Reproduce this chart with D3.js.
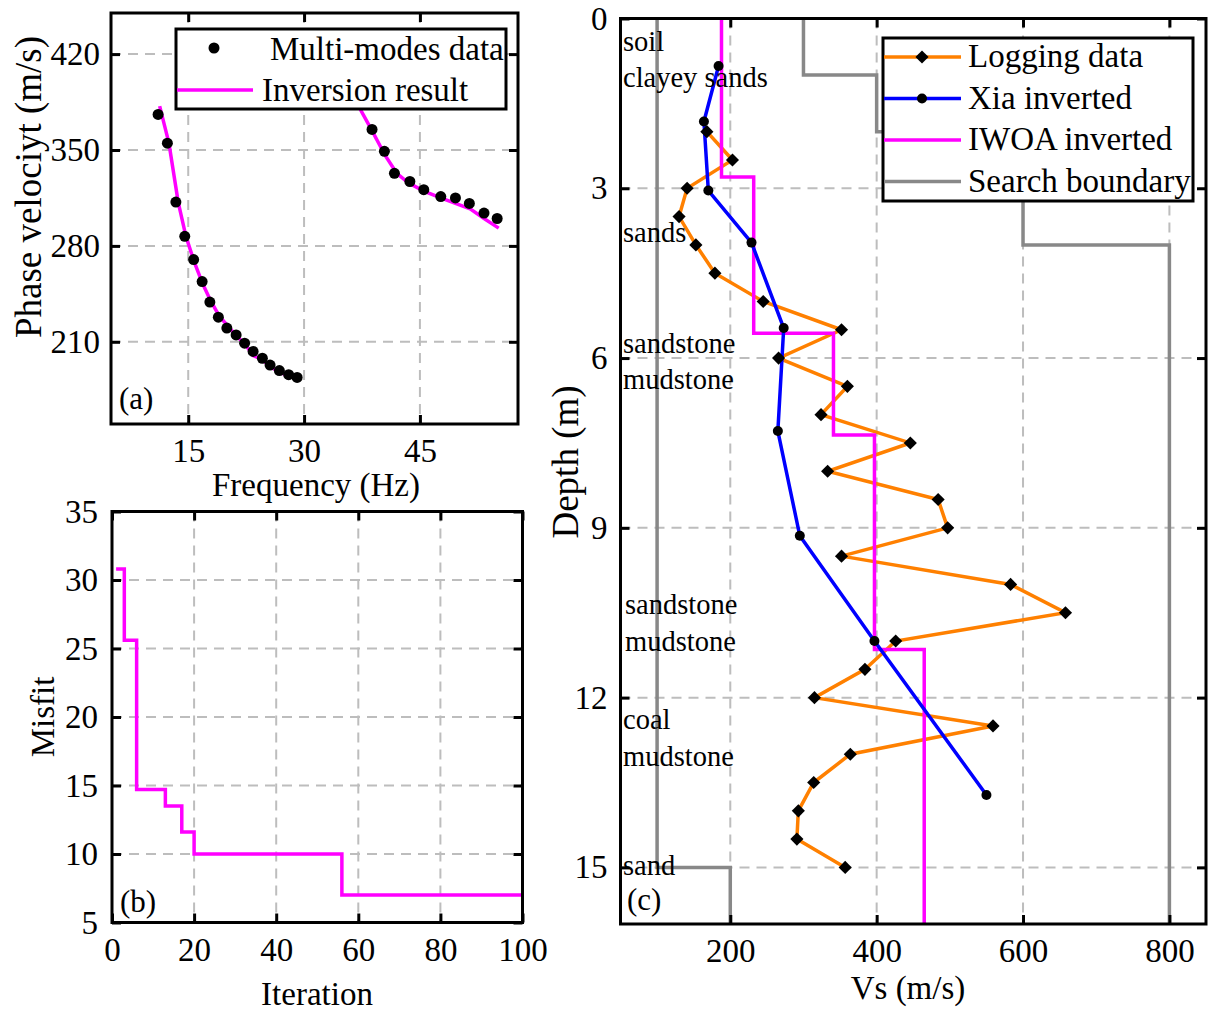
<!DOCTYPE html>
<html>
<head>
<meta charset="utf-8">
<script src="https://cdn.jsdelivr.net/npm/d3@7"></script>
<style>
	body { margin: 0; background: #fff; }
	svg { display: block; }
	text { font-family: "Liberation Serif", "Times New Roman", serif; fill: #000; }
</style>
</head>
<body>
<svg id="fig" width="1208" height="1011"></svg>
<script>
// (a) dispersion curves
var freqMode1 = [11.1, 12.3, 13.4, 14.55, 15.7, 16.8, 17.8, 18.9, 20.0, 21.2, 22.3, 23.4, 24.6, 25.6, 26.8, 28.0, 29.1];
var velMode1 = [376, 355, 312, 287, 270, 254, 239, 228, 220, 215, 209, 203, 198, 193, 189, 186, 184];
var freqMode2 = [38.8, 40.4, 41.7, 43.7, 45.5, 47.7, 49.6, 51.4, 53.3, 55.0];
var velMode2 = [365, 349, 333, 327, 321, 316, 315, 311, 304, 300];
var invFreq1 = [11.3, 12.5, 13.7, 14.7, 15.8, 16.9, 17.9, 19.0, 20.2, 21.3, 22.4, 23.4, 24.6, 25.6, 26.8, 28.0, 29.1];
var invVel1 = [382, 355, 312, 287, 268, 252, 240, 229, 221, 214, 208, 200, 197, 192, 188, 185, 184];
var invFreq2 = [36.5, 37.05, 38.9, 40.5, 42.0, 43.5, 45.5, 47.7, 49.6, 51.5, 53.3, 55.2];
var invVel2 = [392, 382, 363, 346, 333, 326, 320, 315, 311, 307, 300, 293];

// (b) misfit curve
var iterations = [1, 3, 6, 13, 17, 20, 56, 100];
var misfits = [30.8, 25.6, 14.7, 13.5, 11.6, 10.0, 7.0, 7.0];

// (c) Vs profiles
var logDepth = [2.0, 2.5, 3.0, 3.5, 4.0, 4.5, 5.0, 5.5, 6.0, 6.5, 7.0, 7.5, 8.0, 8.5, 9.0, 9.5, 10.0, 10.5, 11.0, 11.5, 12.0, 12.5, 13.0, 13.5, 14.0, 14.5, 15.0];
var logVs = [168, 203, 141, 130, 153, 179, 245, 352, 266, 360, 324, 446, 333, 484, 497, 352, 583, 658, 426, 384, 315, 559, 364, 314, 293, 291, 357];
var xiaDepth = [0.84, 1.82, 3.04, 3.96, 5.47, 7.29, 9.14, 11.0, 13.72];
var xiaVs = [184, 164, 170, 229, 273, 265, 295, 397, 550];
var iwoaTop = [0, 2.8, 5.56, 7.36, 11.15];
var iwoaVs = [188, 232, 341, 397, 465];
var lowTop = [0, 15];
var lowVs = [100, 200];
var upTop = [0, 1, 2, 4];
var upVs = [300, 400, 600, 800];
var maxDepth = 16;

var layerNames = ['soil', 'clayey sands', 'sands', 'sandstone', 'mudstone', 'sandstone', 'mudstone', 'coal', 'mudstone', 'sand'];
var layerLabelY = [51, 87, 242, 353, 389, 614, 651, 729, 766, 875];

var svg = d3.select('#fig');
svg.append('rect').attr('width', 1208).attr('height', 1011).attr('fill', '#fff');

var FS = 33;
var SERIF = '"Liberation Serif", "Times New Roman", serif';

function stepPoints(tops, vals, bottom) {
	var pts = [];
	for (var i = 0; i < tops.length; i++) {
		var b = (i + 1 < tops.length) ? tops[i + 1] : bottom;
		pts.push([vals[i], tops[i]]);
		pts.push([vals[i], b]);
	}
	return pts;
}

function zip(a, b) {
	return a.map(function (d, i) { return [d, b[i]]; });
}

// grid + ticks + frame for one panel
function Panel(x, y, xt, yt) {
	this.x = x;
	this.y = y;
	this.g = svg.append('g');
	var x0 = x.range()[0], x1 = x.range()[1];
	var y0 = y.range()[0], y1 = y.range()[1];
	this.grid = this.g.append('g');
	xt.forEach(function (v) {
		if (v == x.domain()[0] || v == x.domain()[1]) return;
		this.grid.append('line').attr('x1', x(v)).attr('x2', x(v)).attr('y1', Math.min(y0, y1)).attr('y2', Math.max(y0, y1));
	}, this);
	yt.forEach(function (v) {
		if (v == y.domain()[0] || v == y.domain()[1]) return;
		this.grid.append('line').attr('y1', y(v)).attr('y2', y(v)).attr('x1', x0).attr('x2', x1);
	}, this);
	this.grid.selectAll('line')
		.attr('stroke', '#bdbdbd')
		.attr('stroke-width', 2)
		.attr('stroke-dasharray', '10,7');
	this.marks = this.g.append('g');
	this.xt = xt;
	this.yt = yt;
}

Panel.prototype.Axes = function (padB, padL) {
	var x = this.x, y = this.y;
	var x0 = x.range()[0], x1 = x.range()[1];
	var top = Math.min(y.range()[0], y.range()[1]);
	var bot = Math.max(y.range()[0], y.range()[1]);
	var ax = this.g.append('g');
	var xAxisLab = d3.axisBottom(x).tickValues(this.xt).tickSize(-9).tickPadding(padB);
	var xAxisMir = d3.axisTop(x).tickValues(this.xt).tickSize(-9).tickFormat('');
	var yAxisLab = d3.axisLeft(y).tickValues(this.yt).tickSize(-9).tickPadding(padL);
	var yAxisMir = d3.axisRight(y).tickValues(this.yt).tickSize(-9).tickFormat('');
	ax.append('g').attr('transform', 'translate(0,' + bot + ')').call(xAxisLab);
	ax.append('g').attr('transform', 'translate(0,' + top + ')').call(xAxisMir);
	ax.append('g').attr('transform', 'translate(' + x0 + ',0)').call(yAxisLab);
	ax.append('g').attr('transform', 'translate(' + x1 + ',0)').call(yAxisMir);
	ax.selectAll('g').attr('font-family', SERIF).attr('font-size', FS);
	ax.selectAll('.domain').remove();
	ax.selectAll('.tick line').attr('stroke', '#000').attr('stroke-width', 3);
	ax.selectAll('.tick text').style('font-size', FS + 'px').style('font-family', SERIF).attr('fill', '#000');
	this.g.append('rect')
		.attr('x', x0).attr('y', top)
		.attr('width', x1 - x0).attr('height', bot - top)
		.attr('fill', 'none').attr('stroke', '#000').attr('stroke-width', 3);
	return ax;
}

function label(t, x, y, size, rot) {
	var el = svg.append('text')
		.text(t)
		.style('font-size', size + 'px')
		.attr('text-anchor', rot == null ? 'start' : 'middle');
	if (rot) el.attr('transform', 'translate(' + x + ',' + y + ') rotate(' + rot + ')');
	else el.attr('x', x).attr('y', y);
	return el;
}

// ---------- (a)
var xA = d3.scaleLinear().domain([5, 57.7]).range([111, 518]);
var yA = d3.scaleLinear().domain([150, 450]).range([424, 13]);
var pA = new Panel(xA, yA, [15, 30, 45], [210, 280, 350, 420]);
var lineA = d3.line().x(function (d) { return xA(d[0]); }).y(function (d) { return yA(d[1]); });
pA.g.append('defs').append('clipPath').attr('id', 'clipA')
	.append('rect').attr('x', 111).attr('y', 13).attr('width', 407).attr('height', 411);
var mA = pA.marks.attr('clip-path', 'url(#clipA)');
[zip(invFreq1, invVel1), zip(invFreq2, invVel2)].forEach(function (pts) {
	mA.append('path').attr('d', lineA(pts)).attr('fill', 'none').attr('stroke', '#ff00ff').attr('stroke-width', 3.5);
});
zip(freqMode1, velMode1).concat(zip(freqMode2, velMode2)).forEach(function (d) {
	mA.append('circle').attr('cx', xA(d[0])).attr('cy', yA(d[1])).attr('r', 5.5).attr('fill', '#000');
});
pA.Axes(15, 11);
// legend (a)
var legA = svg.append('g');
legA.append('rect').attr('x', 176).attr('y', 29).attr('width', 330).attr('height', 80)
	.attr('fill', '#fff').attr('stroke', '#000').attr('stroke-width', 3);
legA.append('circle').attr('cx', 214).attr('cy', 48).attr('r', 5.5).attr('fill', '#000');
legA.append('line').attr('x1', 177).attr('x2', 253).attr('y1', 90).attr('y2', 90).attr('stroke', '#ff00ff').attr('stroke-width', 3.5);
legA.append('text').attr('x', 270).attr('y', 60).text('Multi-modes data').style('font-size', FS + 'px');
legA.append('text').attr('x', 262).attr('y', 101).text('Inversion result').style('font-size', FS + 'px');
label('(a)', 119, 409, 31);
label('Frequency (Hz)', 316, 496, FS, 0);
label('Phase velociyt (m/s)', 41, 187, 37, -90);

// ---------- (b)
var xB = d3.scaleLinear().domain([0, 100]).range([112, 522.5]);
var yB = d3.scaleLinear().domain([5, 35]).range([922.5, 511.5]);
var pB = new Panel(xB, yB, [0, 20, 40, 60, 80, 100], [5, 10, 15, 20, 25, 30, 35]);
var lineB = d3.line().curve(d3.curveStepAfter).x(function (d) { return xB(d[0]); }).y(function (d) { return yB(d[1]); });
pB.marks.append('path').attr('d', lineB(zip(iterations, misfits)))
	.attr('fill', 'none').attr('stroke', '#ff00ff').attr('stroke-width', 3.5);
pB.Axes(15, 14);
label('(b)', 120, 912, 31);
label('Iteration', 317, 1005, FS, 0);
label('Misfit', 54, 717, FS, -90);

// ---------- (c)
var xC = d3.scaleLinear().domain([50, 850]).range([620.5, 1206]);
var yC = d3.scaleLinear().domain([0, maxDepth]).range([18.5, 924]);
var pC = new Panel(xC, yC, [200, 400, 600, 800], [0, 3, 6, 9, 12, 15]);
var lineC = d3.line().x(function (d) { return xC(d[0]); }).y(function (d) { return yC(d[1]); });
var mC = pC.marks;
mC.append('path').attr('d', lineC(stepPoints(lowTop, lowVs, maxDepth))).attr('fill', 'none').attr('stroke', '#888').attr('stroke-width', 3.5);
mC.append('path').attr('d', lineC(stepPoints(upTop, upVs, maxDepth))).attr('fill', 'none').attr('stroke', '#888').attr('stroke-width', 3.5);
var logPts = zip(logVs, logDepth);
var xiaPts = zip(xiaVs, xiaDepth);
mC.append('path').attr('d', lineC(logPts)).attr('fill', 'none').attr('stroke', '#ff8000').attr('stroke-width', 3.5);
mC.append('path').attr('d', lineC(stepPoints(iwoaTop, iwoaVs, maxDepth))).attr('fill', 'none').attr('stroke', '#ff00ff').attr('stroke-width', 3.5);
mC.append('path').attr('d', lineC(xiaPts)).attr('fill', 'none').attr('stroke', '#0000ff').attr('stroke-width', 3.5);
var diamond = d3.symbol().type(d3.symbolDiamond2).size(110);
logPts.forEach(function (d) {
	mC.append('path').attr('d', diamond()).attr('transform', 'translate(' + xC(d[0]) + ',' + yC(d[1]) + ')').attr('fill', '#000');
});
xiaPts.forEach(function (d) {
	mC.append('circle').attr('cx', xC(d[0])).attr('cy', yC(d[1])).attr('r', 5).attr('fill', '#000');
});
pC.Axes(15, 13);
layerNames.forEach(function (t, i) {
	label(t, i == 5 || i == 6 ? 625 : 623, layerLabelY[i], 28.5);
});
label('(c)', 627, 910, 31);
label('Vs (m/s)', 908, 999, FS, 0);
label('Depth (m)', 578, 462, 37, -90);
// legend (c)
var legC = svg.append('g');
legC.append('rect').attr('x', 883).attr('y', 38).attr('width', 310).attr('height', 163)
	.attr('fill', '#fff').attr('stroke', '#000').attr('stroke-width', 3);
var legItems = [
	{ name: 'Logging data', color: '#ff8000', mark: 'diamond' },
	{ name: 'Xia inverted', color: '#0000ff', mark: 'circle' },
	{ name: 'IWOA inverted', color: '#ff00ff', mark: null },
	{ name: 'Search boundary', color: '#888', mark: null }
];
legItems.forEach(function (d, i) {
	var cy = 57 + i * 41.5;
	legC.append('line').attr('x1', 884).attr('x2', 961).attr('y1', cy).attr('y2', cy).attr('stroke', d.color).attr('stroke-width', 3.5);
	if (d.mark == 'diamond') legC.append('path').attr('d', diamond()).attr('transform', 'translate(922,' + cy + ')').attr('fill', '#000');
	if (d.mark == 'circle') legC.append('circle').attr('cx', 922).attr('cy', cy).attr('r', 5).attr('fill', '#000');
	legC.append('text').attr('x', 968).attr('y', cy + 10).text(d.name).style('font-size', FS + 'px');
});
</script>
</body>
</html>
